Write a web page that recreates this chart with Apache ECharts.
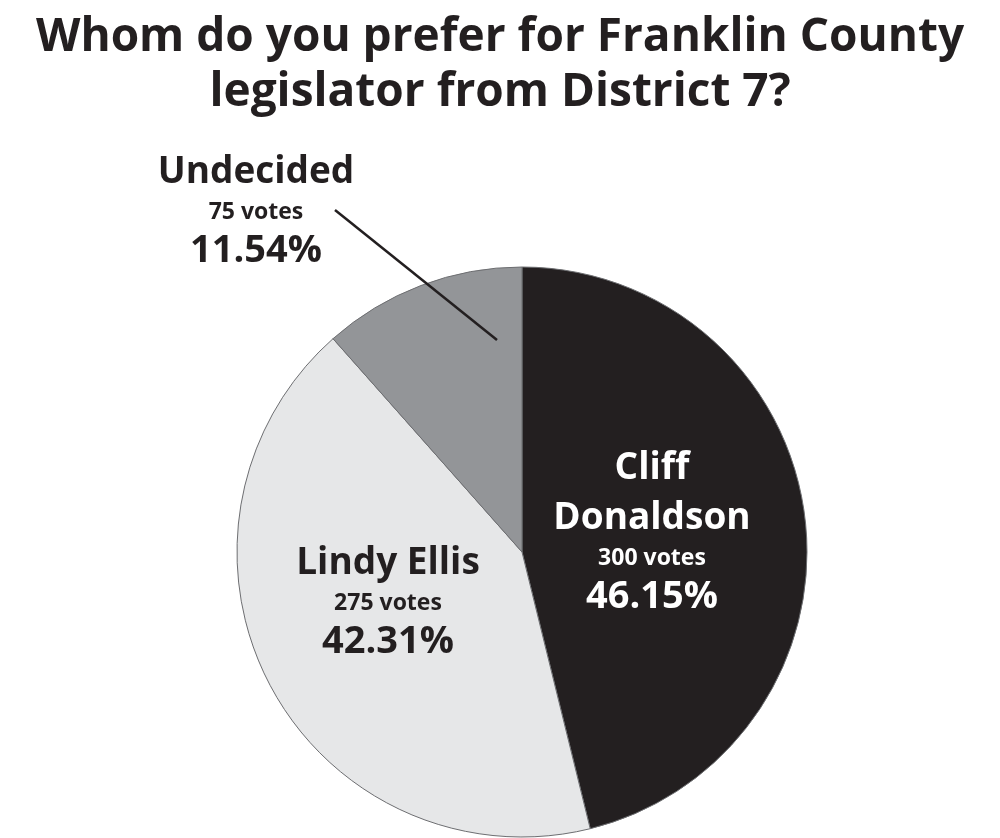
<!DOCTYPE html>
<html><head><meta charset="utf-8">
<script src="https://cdn.jsdelivr.net/npm/echarts@6/dist/echarts.min.js"></script>
<style>html,body{margin:0;padding:0;background:#fff}#c{width:1000px;height:838px}</style>
</head><body><div id="c"></div>
<script>
const titleLines = ["Whom do you prefer for Franklin County", "legislator from District 7?"];
const names = ["Cliff\nDonaldson", "Lindy Ellis", "Undecided"];
const votes = [300, 275, 75];
const percents = ["46.15%", "42.31%", "11.54%"];
const colors = ["#231f20", "#e6e7e8", "#939598"];
const textColors = ["#ffffff", "#231f20", "#231f20"];

const FONT = "Open Sans";
const chart = echarts.init(document.getElementById('c'));
const labelPos = [[652, 532], [388, 602], [256, 211]];

function richFor(color) {
  return {
    n: {fontFamily: FONT, fontWeight: 'bold', fontSize: 37, lineHeight: 50, color: color, align: 'center'},
    v: {fontFamily: FONT, fontWeight: 'bold', fontSize: 23, lineHeight: 30, color: color, align: 'center'},
    p: {fontFamily: FONT, fontWeight: 'bold', fontSize: 38, lineHeight: 48, color: color, align: 'center'}
  };
}

chart.setOption({
  backgroundColor: '#fff',
  title: {
    text: titleLines.join('\n'),
    left: 'center', top: 5,
    textStyle: {fontFamily: FONT, fontWeight: 'bold', fontSize: 46, lineHeight: 55, color: '#231f20'}
  },
  graphic: [{
    type: 'line', silent: true, z: 100, zlevel: 0,
    shape: {x1: 335, y1: 210, x2: 497, y2: 340},
    style: {stroke: '#231f20', lineWidth: 2.5}
  }],
  series: [{
    type: 'pie',
    center: [522, 552],
    radius: 285,
    startAngle: 90,
    clockwise: true,
    silent: true,
    animation: false,
    z: 2,
    itemStyle: {borderColor: '#6d6e71', borderWidth: 1},
    data: names.map((n, i) => ({
      name: n, value: votes[i],
      itemStyle: {color: colors[i]},
      label: {rich: richFor(textColors[i])}
    })),
    label: {
      show: true,
      position: 'inside',
      formatter: p => {
        const i = p.dataIndex;
        return names[i].split('\n').map(s => '{n|' + s + '}').join('\n') +
          '\n{v|' + votes[i] + ' votes}\n{p|' + percents[i] + '}';
      }
    },
    labelLine: {show: false},
    labelLayout: p => ({
      x: labelPos[p.dataIndex][0], y: labelPos[p.dataIndex][1],
      align: 'center', verticalAlign: 'middle', hideOverlap: false
    })
  }]
});
</script></body></html>
